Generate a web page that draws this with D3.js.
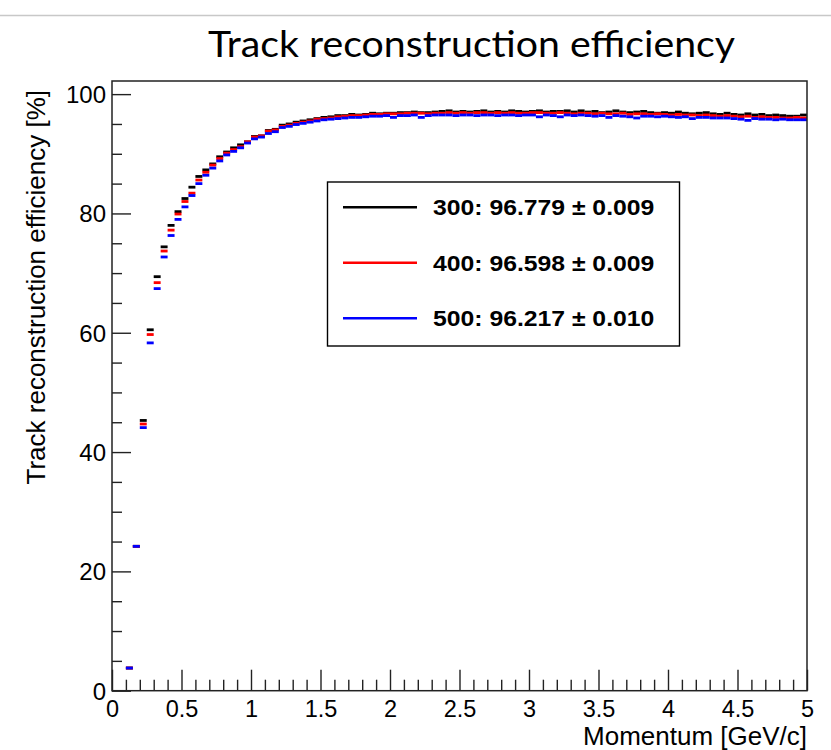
<!DOCTYPE html>
<html><head><meta charset="utf-8">
<script src="https://cdn.jsdelivr.net/npm/d3@7/dist/d3.min.js"></script>
<style>html,body{margin:0;padding:0;background:#fff;}</style>
</head><body>
<svg id="c" width="831" height="750"></svg>
<script>
// ---- data ----
const binLow = [0.10,0.15,0.20,0.25,0.30,0.35,0.40,0.45,0.50,0.55,
0.60,0.65,0.70,0.75,0.80,0.85,0.90,0.95,1.00,1.05,
1.10,1.15,1.20,1.25,1.30,1.35,1.40,1.45,1.50,1.55,
1.60,1.65,1.70,1.75,1.80,1.85,1.90,1.95,2.00,2.05,
2.10,2.15,2.20,2.25,2.30,2.35,2.40,2.45,2.50,2.55,
2.60,2.65,2.70,2.75,2.80,2.85,2.90,2.95,3.00,3.05,
3.10,3.15,3.20,3.25,3.30,3.35,3.40,3.45,3.50,3.55,
3.60,3.65,3.70,3.75,3.80,3.85,3.90,3.95,4.00,4.05,
4.10,4.15,4.20,4.25,4.30,4.35,4.40,4.45,4.50,4.55,
4.60,4.65,4.70,4.75,4.80,4.85,4.90,4.95];
const binWidth = 0.05;
const eff300 = [3.8,24.2,45.3,60.5,69.4,74.4,78.0,80.3,82.5,84.4,
86.2,87.3,88.3,89.5,90.3,91.0,91.5,92.0,92.9,93.0,
93.9,94.1,94.8,95.0,95.3,95.5,95.7,95.9,96.1,96.2,
96.4,96.4,96.6,96.5,96.6,96.8,96.7,96.8,96.8,96.9,
96.9,97.0,96.9,96.9,97.0,97.1,97.2,97.0,97.1,97.0,
97.1,97.2,97.0,97.1,97.0,97.2,97.1,97.0,97.1,97.2,
97.0,97.1,97.1,97.2,97.0,97.2,97.0,97.1,96.9,97.0,
97.2,97.0,96.9,97.0,97.1,96.9,96.8,96.9,96.8,97.0,
96.8,96.7,96.8,96.9,96.7,96.6,96.8,96.6,96.5,96.7,
96.5,96.6,96.4,96.5,96.4,96.3,96.3,96.5];
const eff400 = [3.8,24.2,44.7,59.7,68.4,73.7,77.2,79.9,82.0,83.4,
85.6,86.9,88.1,89.2,90.1,90.7,91.2,92.0,92.8,93.0,
93.8,94.0,94.6,94.8,95.1,95.3,95.5,95.8,95.9,96.0,
96.2,96.3,96.4,96.4,96.5,96.6,96.6,96.7,96.7,96.7,
96.8,96.8,96.8,96.7,96.8,96.8,96.9,96.8,96.9,96.8,
96.9,96.9,96.8,96.9,96.8,96.9,96.8,96.8,96.9,96.9,
96.8,96.8,96.9,96.8,96.7,96.8,96.8,96.7,96.8,96.7,
96.7,96.8,96.6,96.7,96.7,96.6,96.7,96.6,96.5,96.6,
96.5,96.5,96.4,96.5,96.4,96.3,96.4,96.3,96.2,96.3,
96.1,96.2,96.1,96.1,96.0,96.0,96.1,96.0];
const eff500 = [3.8,24.2,44.1,58.3,67.4,72.7,76.3,79.0,81.1,83.0,
85.0,86.4,87.6,88.8,89.8,90.4,91.0,91.8,92.5,92.8,
93.4,93.7,94.4,94.6,94.9,95.1,95.3,95.5,95.7,95.8,
95.9,96.0,96.1,96.1,96.2,96.3,96.3,96.4,96.1,96.4,
96.4,96.5,96.1,96.4,96.5,96.5,96.5,96.4,96.5,96.5,
96.4,96.5,96.5,96.4,96.5,96.5,96.4,96.5,96.5,96.2,
96.5,96.4,96.2,96.5,96.4,96.5,96.4,96.3,96.4,96.1,
96.4,96.3,96.2,96.0,96.3,96.3,96.2,96.3,96.2,96.1,
96.2,95.9,96.1,96.1,96.0,96.0,96.0,95.9,95.8,95.6,
95.9,95.8,95.8,95.7,95.8,95.7,95.7,95.7];
const seriesNames = ["300","400","500"];
const seriesColors = ["#000000","#ff0000","#0000ff"];
const legendLabels = ["300: 96.779 \u00b1 0.009","400: 96.598 \u00b1 0.009","500: 96.217 \u00b1 0.010"];
const xMajorTicks = [0,0.5,1,1.5,2,2.5,3,3.5,4,4.5,5];
const xTickLabels = ["0","0.5","1","1.5","2","2.5","3","3.5","4","4.5","5"];
const xMinorTicks = [0.1,0.2,0.3,0.4,0.6,0.7,0.8,0.9,1.1,1.2,1.3,1.4,1.6,1.7,1.8,1.9,2.1,2.2,2.3,2.4,2.6,2.7,2.8,2.9,3.1,3.2,3.3,3.4,3.6,3.7,3.8,3.9,4.1,4.2,4.3,4.4,4.6,4.7,4.8,4.9];
const yMajorTicks = [0,20,40,60,80,100];
const yTickLabels = ["0","20","40","60","80","100"];
const yMinorTicks = [5,10,15,25,30,35,45,50,55,65,70,75,85,90,95];
const titleText = "Track reconstruction efficiency";
const xTitle = "Momentum [GeV/c]";
const yTitle = "Track reconstruction efficiency [%]";

// ---- layout ----
const L = 112, R = 807, T = 81, B = 690.7;
const FONT = "'Liberation Sans', Arial, Helvetica, sans-serif";
const svg = d3.select("#c");
const x = d3.scaleLinear().domain([0,5]).range([L,R]);
const y = d3.scaleLinear().domain([0,102.2]).range([B,T]);

// top gray rule
svg.append("line").attr("x1",0).attr("x2",831).attr("y1",15.5).attr("y2",15.5)
  .attr("stroke","#c8c8c8").attr("stroke-width",1.5);

// title
svg.append("text").attr("x",208).attr("y",57).text(titleText)
  .attr("font-family","Lato, 'Open Sans', sans-serif").attr("font-size",37)
  .attr("textLength",527).attr("lengthAdjust","spacingAndGlyphs").attr("fill","#000");

// data markers
const series = [eff300, eff400, eff500];
series.forEach((vals,si)=>{
  svg.append("g").selectAll("line").data(binLow).join("line")
    .attr("x1",d=>x(d)).attr("x2",d=>x(d+binWidth))
    .attr("y1",(d,i)=>y(vals[i])).attr("y2",(d,i)=>y(vals[i]))
    .attr("stroke",seriesColors[si]).attr("stroke-width",2.8);
});

// axes ticks
const tickCol = "#222";
function styleAxis(g){
  g.select(".domain").remove();
  g.selectAll(".tick line").attr("stroke",tickCol).attr("stroke-width",1.4);
}
const gxMaj = svg.append("g").attr("transform",`translate(0,${B})`)
  .call(d3.axisBottom(x).tickValues(xMajorTicks).tickSize(-21).tickPadding(0)
    .tickFormat((d,i)=>xTickLabels[i]));
styleAxis(gxMaj);
gxMaj.selectAll("text").attr("y",0).attr("dy",null)
  .attr("transform",`translate(0,26.5)`)
  .attr("font-family",FONT).attr("font-size",23.5).attr("fill","#000");
const gxMin = svg.append("g").attr("transform",`translate(0,${B})`)
  .call(d3.axisBottom(x).tickValues(xMinorTicks).tickSize(-11).tickFormat(""));
styleAxis(gxMin);

const gyMaj = svg.append("g").attr("transform",`translate(${L},0)`)
  .call(d3.axisLeft(y).tickValues(yMajorTicks).tickSize(-19).tickPadding(0)
    .tickFormat((d,i)=>yTickLabels[i]));
styleAxis(gyMaj);
gyMaj.selectAll("text").attr("x",0).attr("dy",null).attr("y",0)
  .attr("transform",`translate(-6,8.5)`)
  .attr("font-family",FONT).attr("font-size",24).attr("fill","#000");
const gyMin = svg.append("g").attr("transform",`translate(${L},0)`)
  .call(d3.axisLeft(y).tickValues(yMinorTicks).tickSize(-10).tickFormat(""));
styleAxis(gyMin);

// frame
svg.append("rect").attr("x",L).attr("y",T).attr("width",R-L).attr("height",B-T)
  .attr("fill","none").attr("stroke",tickCol).attr("stroke-width",1.5);

// axis titles
svg.append("text").attr("text-anchor","end")
  .attr("transform",`translate(${R},745) scale(1.04,1)`)
  .attr("font-family",FONT).attr("font-size",25).text(xTitle);
svg.append("text").attr("text-anchor","end")
  .attr("transform",`translate(45,90) rotate(-90)`)
  .attr("font-family",FONT).attr("font-size",26).text(yTitle);

// legend
const lg = svg.append("g");
lg.append("rect").attr("x",327.5).attr("y",182).attr("width",352).attr("height",164)
  .attr("fill","#fff").attr("stroke","#000").attr("stroke-width",1.4);
const legY = [207.3,262.7,318.3];
legendLabels.forEach((lab,i)=>{
  lg.append("line").attr("x1",343).attr("x2",417).attr("y1",legY[i]).attr("y2",legY[i])
    .attr("stroke",seriesColors[i]).attr("stroke-width",2.6);
  lg.append("text").attr("transform",`translate(433,${legY[i]+8}) scale(1.1,1)`)
    .attr("font-family",FONT).attr("font-weight","bold").attr("font-size",22.5).text(lab);
});
</script>
</body></html>
